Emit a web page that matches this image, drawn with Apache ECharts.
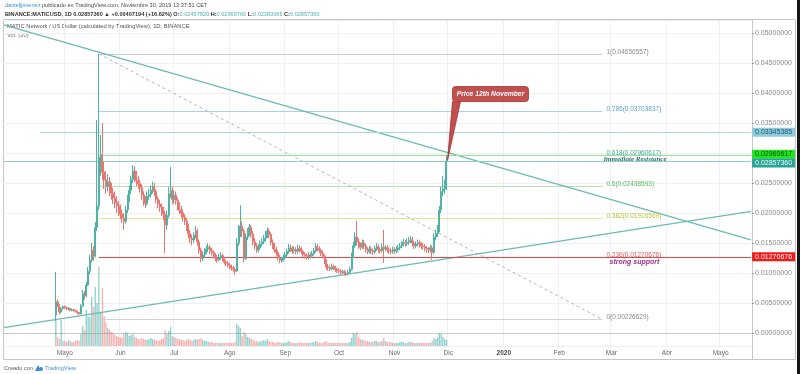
<!DOCTYPE html>
<html><head><meta charset="utf-8">
<script src="https://cdn.jsdelivr.net/npm/echarts@6/dist/echarts.min.js"></script>
<style>html,body{margin:0;padding:0;background:#fff}#c{width:800px;height:374px}</style>
</head><body><div id="c"></div>
<script>
// ---------- DATA ----------
const axisStart = '2019-03-28';      // first category of the time axis
const axisDays = 418;                // to 2020-05-18
const firstLabelDate = '2019-05-01';
const candleStart = '2019-04-26';    // first daily candle
const firstOpen = 0.0030;
const closes = [
 0.0052,0.0046,0.0035,0.0041,0.0044,
 0.0042,0.0040,0.0041,0.0038,0.0039,0.0037,0.0036,0.0034,0.0032,0.0045,0.0066,0.0062,0.0080,0.0103,0.0122,0.0138,0.0128,0.0176,0.0212,0.0293,0.0297,0.0268,0.0255,0.0244,0.0252,0.0238,0.0233,0.0225,0.0217,0.0212,0.0205,
 0.0198,0.0192,0.0186,0.0205,0.0224,0.0238,0.0256,0.0270,0.0262,0.0254,0.0249,0.0242,0.0230,0.0220,0.0216,0.0228,0.0231,0.0238,0.0244,0.0236,0.0223,0.0215,0.0210,0.0203,0.0198,0.0180,0.0196,0.0232,0.0238,0.0222,
 0.0230,0.0221,0.0212,0.0205,0.0200,0.0193,0.0187,0.0178,0.0166,0.0158,0.0155,0.0163,0.0170,0.0152,0.0138,0.0124,0.0130,0.0136,0.0140,0.0143,0.0137,0.0134,0.0128,0.0125,0.0122,0.0126,0.0129,0.0123,0.0118,0.0116,0.0113,
 0.0110,0.0108,0.0106,0.0103,0.0150,0.0165,0.0178,0.0170,0.0124,0.0160,0.0168,0.0176,0.0165,0.0152,0.0145,0.0138,0.0142,0.0148,0.0152,0.0158,0.0163,0.0170,0.0164,0.0151,0.0145,0.0139,0.0134,0.0126,0.0121,0.0122,0.0126,
 0.0130,0.0136,0.0142,0.0140,0.0137,0.0139,0.0136,0.0141,0.0140,0.0136,0.0131,0.0129,0.0127,0.0130,0.0128,0.0132,0.0137,0.0144,0.0141,0.0138,0.0133,0.0128,0.0120,0.0110,0.0109,0.0107,0.0111,0.0109,0.0106,0.0104,
 0.0103,0.0101,0.0102,0.0100,0.0099,0.0101,0.0106,0.0128,0.0145,0.0160,0.0152,0.0146,0.0143,0.0150,0.0145,0.0139,0.0136,0.0140,0.0137,0.0135,0.0141,0.0144,0.0139,0.0137,0.0143,0.0140,0.0142,0.0139,0.0137,0.0136,0.0139,
 0.0137,0.0139,0.0142,0.0145,0.0148,0.0151,0.0149,0.0151,0.0154,0.0156,0.0150,0.0145,0.0148,0.0151,0.0147,0.0145,0.0144,0.0141,0.0139,0.0138,0.0142,0.0134,0.0160,0.0166,0.0172,0.0205,0.0236,0.0240,0.02450166,0.0285736
];
const lastOpen = 0.0245792;
const highs = [
 0.0102,0.0056,0.0048,0.0043,0.0046,
 0.0046,0.0044,0.0043,0.0042,0.0041,0.0040,0.0039,0.0037,0.0035,0.0048,0.0072,0.0070,0.0085,0.0110,0.0130,0.0150,0.0145,0.0185,0.0355,0.04650557,0.0330,0.0350,0.0285,0.0270,0.0265,0.0260,0.0250,0.0242,0.0236,0.0228,0.0220,
 0.0214,0.0206,0.0200,0.0212,0.0230,0.0246,0.0262,0.0280,0.0278,0.0270,0.0262,0.0256,0.0248,0.0236,0.0228,0.0236,0.0240,0.0246,0.0252,0.0250,0.0240,0.0228,0.0222,0.0216,0.0210,0.0204,0.0204,0.0243,0.0277,0.0244,
 0.0238,0.0236,0.0226,0.0218,0.0212,0.0206,0.0198,0.0192,0.0182,0.0172,0.0164,0.0168,0.0178,0.0174,0.0156,0.0142,0.0136,0.0141,0.0146,0.0150,0.0147,0.0142,0.0138,0.0133,0.0130,0.0132,0.0135,0.0132,0.0127,0.0122,0.0120,
 0.0117,0.0114,0.0112,0.0110,0.0158,0.0180,0.0213,0.0186,0.0174,0.0166,0.0175,0.0182,0.0180,0.0170,0.0158,0.0150,0.0148,0.0154,0.0158,0.0164,0.0170,0.0176,0.0174,0.0168,0.0156,0.0150,0.0144,0.0138,0.0130,0.0127,0.0131,
 0.0135,0.0141,0.0148,0.0147,0.0144,0.0145,0.0143,0.0147,0.0146,0.0144,0.0139,0.0135,0.0133,0.0135,0.0134,0.0137,0.0142,0.0150,0.0148,0.0145,0.0141,0.0137,0.0131,0.0123,0.0115,0.0113,0.0116,0.0114,0.0112,0.0109,
 0.0108,0.0106,0.0106,0.0105,0.0103,0.0105,0.0110,0.0134,0.0152,0.0168,0.0187,0.0158,0.0151,0.0156,0.0155,0.0149,0.0143,0.0145,0.0144,0.0141,0.0146,0.0150,0.0148,0.0143,0.0149,0.0172,0.0147,0.0146,0.0143,0.0141,0.0144,
 0.0143,0.0144,0.0147,0.0150,0.0153,0.0157,0.0155,0.0157,0.0160,0.0162,0.0160,0.0154,0.0153,0.0156,0.0155,0.0151,0.0150,0.0148,0.0145,0.0143,0.0147,0.0146,0.0166,0.0172,0.0180,0.0212,0.0244,0.0262,0.0256,0.0296976
];
const lows = [
 0.0020,0.0043,0.0031,0.0033,0.0039,
 0.0040,0.0038,0.0038,0.0036,0.0036,0.0035,0.0034,0.0032,0.0030,0.0031,0.0044,0.0056,0.0060,0.0078,0.0098,0.0118,0.0120,0.0126,0.0170,0.0205,0.0262,0.0255,0.0240,0.0232,0.0236,0.0228,0.0222,0.0215,0.0208,0.0200,0.0195,
 0.0190,0.0184,0.0172,0.0182,0.0200,0.0218,0.0232,0.0250,0.0252,0.0245,0.0240,0.0234,0.0222,0.0212,0.0208,0.0212,0.0222,0.0226,0.0232,0.0228,0.0216,0.0208,0.0202,0.0195,0.0188,0.0133,0.0172,0.0192,0.0225,0.0214,
 0.0216,0.0214,0.0204,0.0198,0.0192,0.0186,0.0180,0.0170,0.0158,0.0150,0.0146,0.0150,0.0158,0.0146,0.0132,0.0118,0.0120,0.0126,0.0132,0.0135,0.0132,0.0129,0.0124,0.0120,0.0117,0.0119,0.0122,0.0119,0.0114,0.0111,0.0109,
 0.0106,0.0104,0.0102,0.0097,0.0102,0.0145,0.0160,0.0160,0.0118,0.0122,0.0155,0.0162,0.0158,0.0146,0.0139,0.0133,0.0134,0.0138,0.0144,0.0148,0.0153,0.0158,0.0158,0.0146,0.0140,0.0134,0.0129,0.0121,0.0116,0.0117,0.0119,
 0.0122,0.0127,0.0132,0.0135,0.0132,0.0133,0.0131,0.0132,0.0135,0.0131,0.0126,0.0124,0.0122,0.0123,0.0124,0.0125,0.0129,0.0134,0.0136,0.0133,0.0128,0.0124,0.0115,0.0105,0.0104,0.0103,0.0104,0.0105,0.0102,0.0100,
 0.0099,0.0097,0.0098,0.0096,0.0095,0.0096,0.0099,0.0104,0.0125,0.0142,0.0146,0.0140,0.0138,0.0140,0.0140,0.0134,0.0131,0.0132,0.0132,0.0130,0.0132,0.0137,0.0134,0.0132,0.0134,0.0117,0.0136,0.0134,0.0132,0.0131,0.0132,
 0.0132,0.0133,0.0135,0.0138,0.0141,0.0144,0.0144,0.0145,0.0147,0.0150,0.0145,0.0140,0.0141,0.0144,0.0142,0.0140,0.0139,0.0136,0.0134,0.0133,0.0134,0.0122,0.0132,0.0155,0.0160,0.0168,0.0200,0.0228,0.0232,0.0238307
];
// volume, relative units
const volumes = [
 260,90,70,260,50,
 50,40,60,50,40,40,50,60,50,120,200,160,360,300,290,490,390,590,430,790,330,580,300,230,180,160,140,130,110,100,90,
 90,80,120,140,130,100,110,120,90,80,70,70,80,70,60,60,70,80,70,60,60,50,60,70,80,160,120,150,190,100,
 90,80,70,70,60,60,50,60,70,60,50,60,70,60,70,80,60,50,50,40,40,40,30,30,30,30,30,30,30,30,30,
 30,30,30,40,220,200,180,100,140,120,90,80,70,60,50,50,40,50,50,60,50,70,50,40,40,30,30,40,40,30,30,
 30,40,50,40,30,30,30,30,40,30,30,30,30,30,30,40,40,50,40,30,30,30,40,50,30,30,30,30,30,30,
 30,30,30,30,30,30,40,80,130,120,140,90,70,60,60,50,50,40,40,40,50,50,40,40,50,80,50,40,40,40,30,
 30,30,30,40,40,40,30,30,40,40,40,30,30,30,30,30,30,30,30,30,30,50,80,70,90,130,120,90,70,60
];
const monthNames = ['Ene','Feb','Mar','Abr','Mayo','Jun','Jul','Ago','Sep','Oct','Nov','Dic'];
const fibRatios = ['0','0.236','0.382','0.5','0.618','0.786','1'];
const fibLevels = [0.00226629,0.01270676,0.01916569,0.02438593,0.02960617,0.03703837,0.04650557];
const fibStart = '2019-05-20', fibEnd = '2020-02-25';
const resistanceLevel = 0.03345385, resistanceFrom = '2019-04-17';
const immediateResistance = 0.02960617;
const lastPrice = 0.0285736;
const strongSupport = 0.01270676;
const upperTrend = [['2019-03-28', 0.05137], ['2020-05-18', 0.01553]];
const lowerTrend = [['2019-03-28', 0.00088], ['2020-05-18', 0.02028]];
const yMin = -0.00216667, yMax = 0.05216667;

// ---------- BUILD ----------
function dayStr(base, n) {
  return new Date(Date.parse(base + 'T00:00:00Z') + n * 86400000).toISOString().slice(0, 10);
}
const categories = [];
for (let i = 0; i < axisDays; i++) categories.push(dayStr(axisStart, i));
const lastCat = categories[categories.length - 1];
const firstCat = categories[0];
const isMonthTick = (i, v) => v.slice(8) === '01' && v >= firstLabelDate;

const UP = '#4fb3a3', DOWN = '#ec7470';
const candleData = [], volData = [];
for (let i = 0; i < closes.length; i++) {
  const d = dayStr(candleStart, i);
  const o = i === 0 ? firstOpen : (i === closes.length - 1 ? lastOpen : closes[i - 1]);
  const c = closes[i];
  candleData.push([d, o, c, lows[i], highs[i]]);
  volData.push({ value: [d, volumes[i]], itemStyle: { color: c >= o ? 'rgba(38,166,154,0.5)' : 'rgba(239,83,80,0.45)' } });
}
const lenOk = closes.length === highs.length && closes.length === lows.length && closes.length === volumes.length;

const FONT = 'Liberation Sans';
const fibLineColors = ['#d2d2d2', '#e88b8b', '#e3e79a', '#b6e2b0', '#a6dccc', '#a9d2ea', '#c3d2db'];
const fibTextColors = ['#8a8a8a', '#e06060', '#b8c43a', '#5cb85c', '#3eab98', '#5b9fd0', '#8a8a8a'];

function hLine(fromX, toX, v, color, width, label) {
  return [
    { coord: [fromX, v], lineStyle: { color: color, width: width, type: 'solid' }, label: label || { show: false } },
    { coord: [toX, v] }
  ];
}
function axisTag(v, bg, fg, dy) {
  return { show: true, position: 'end', distance: 1, formatter: v.toFixed(8), offset: [0, dy || 0],
    backgroundColor: bg, color: fg, fontSize: 7, lineHeight: 8, fontFamily: FONT, padding: [1, 3, 0, 3] };
}

const mlData = [];
for (let k = 0; k < fibLevels.length; k++) {
  mlData.push(hLine(fibStart, fibEnd, fibLevels[k], k === 1 ? 'rgba(0,0,0,0)' : fibLineColors[k], 1, {
    show: true, position: 'end', distance: 4, offset: [0, -2],
    formatter: fibRatios[k] + '(' + fibLevels[k].toFixed(8) + ')', color: fibTextColors[k], fontSize: 6.5, fontFamily: FONT }));
}
mlData.push([
  { coord: [fibStart, fibLevels[6]], lineStyle: { color: '#b5b5b5', width: 1, type: [3, 3] }, label: { show: false } },
  { coord: [fibEnd, fibLevels[0]] }
]);
mlData.push([{ coord: upperTrend[0], lineStyle: { color: '#6dbab3', width: 1.3, type: 'solid' }, label: { show: false } }, { coord: upperTrend[1] }]);
mlData.push([{ coord: lowerTrend[0], lineStyle: { color: '#6dbab3', width: 1.3, type: 'solid' }, label: { show: false } }, { coord: lowerTrend[1] }]);
mlData.push(hLine(resistanceFrom, lastCat, resistanceLevel, '#a6d7e2', 1, axisTag(resistanceLevel, '#8ecbdd', '#1f566a', 0)));
mlData.push(hLine(fibStart, lastCat, immediateResistance, '#93e393', 1, axisTag(immediateResistance, '#1ee51e', '#0d4a0d', -1)));
mlData.push(hLine(firstCat, lastCat, lastPrice, '#8fcfc6', 1, axisTag(lastPrice, '#2ba297', '#eafffb', 1.5)));
mlData.push(hLine(fibStart, lastCat, strongSupport, '#e04549', 1.2, axisTag(strongSupport, '#f01a1a', '#ffffff', 0)));

const option = {
  animation: false,
  backgroundColor: '#ffffff',
  grid: { left: 3, right: 48, top: 20, bottom: 28, show: false },
  xAxis: {
    type: 'category', data: categories, boundaryGap: true,
    axisLine: { show: true, lineStyle: { color: '#c9c9c9' } },
    axisTick: { show: false },
    axisLabel: {
      interval: isMonthTick, color: '#6a6a6a', fontSize: 6.5, fontFamily: FONT, margin: 4,
      formatter: (v) => { const m = +v.slice(5, 7) - 1; return m === 0 ? '{y|' + v.slice(0, 4) + '}' : monthNames[m]; },
      rich: { y: { fontWeight: 'bold', color: '#444', fontSize: 6.5, fontFamily: FONT } }
    },
    splitLine: { show: true, interval: isMonthTick, lineStyle: { color: '#edf1f5', width: 1 } }
  },
  yAxis: [{
    type: 'value', position: 'right', min: yMin, max: yMax, splitNumber: 10, scale: false,
    axisLine: { show: true, lineStyle: { color: '#c9c9c9' } },
    axisTick: { show: true, length: 2, lineStyle: { color: '#999' } },
    axisLabel: { color: '#8a8a8a', fontSize: 7, fontFamily: FONT, margin: 3, showMinLabel: false, showMaxLabel: false,
      formatter: (v) => v.toFixed(8) },
    splitLine: { show: true, lineStyle: { color: '#eef1f4', width: 1 } }
  }, {
    type: 'value', min: 0, max: 3260, show: false, splitLine: { show: false }
  }],
  series: [{
    type: 'bar', name: 'Vol', yAxisIndex: 1, data: volData, barWidth: '75%', silent: true, z: 1
  }, {
    type: 'candlestick', name: 'MATICUSD', yAxisIndex: 0, data: candleData,
    encode: { x: 0, y: [1, 2, 3, 4] }, barWidth: 1.5, z: 3,
    itemStyle: { color: UP, color0: DOWN, borderColor: UP, borderColor0: DOWN, borderWidth: 1 },
    markLine: { silent: true, symbol: ['none', 'none'], animation: false, z: 2, data: mlData },
    markPoint: {
      silent: true, symbol: 'circle', symbolSize: 0, animation: false,
      data: [
        { coord: [fibEnd, 0.0290], label: { show: true, position: 'right', distance: 1, formatter: 'Immediate Resistance',
          color: '#2b6f6b', fontSize: 7, fontStyle: 'italic', fontWeight: 'bold', fontFamily: 'Liberation Serif' } },
        { coord: ['2020-02-29', 0.01183], label: { show: true, position: 'right', distance: 0, formatter: 'strong support',
          color: '#a52c8e', fontSize: 7, fontStyle: 'italic', fontWeight: 'bold', fontFamily: FONT } }
      ]
    }
  }],
  graphic: []
};

const headerGraphics = [
  { type: 'rect', id: 'frame', silent: true, shape: { x: 3.5, y: 19.5, width: 792, height: 340 }, style: { fill: 'none', stroke: '#c6c6c6', lineWidth: 1 }, z: -1 },
  { type: 'line', id: 'sep', silent: true, shape: { x1: 752.5, y1: 20, x2: 752.5, y2: 359 }, style: { stroke: '#c6c6c6', lineWidth: 1 } },
  { type: 'rect', id: 'edge', silent: true, shape: { x: 797, y: 0, width: 3, height: 374 }, style: { fill: '#151515' } },
  { type: 'text', id: 'h1', left: 5, top: 2, silent: true, style: { text: '{u|danieljjimenez} publicado en TradingView.com, Noviembre 30, 2019 13:37:51 CET',
      fill: '#4a4a4a', fontSize: 5.6, fontFamily: FONT, rich: { u: { fill: '#3f8fd2', fontSize: 5.6, fontFamily: FONT } } } },
  { type: 'text', id: 'h2', left: 5, top: 11, silent: true, style: {
      text: '{b|BINANCE:MATICUSD, 1D} 0.02857360 \u25B2 +0.00407194 (+16.62%) O:{t|0.02457920} H:{t|0.02969760} L:{t|0.02383065} C:{t|0.02857360}',
      fill: '#333', fontSize: 5.6, fontWeight: 'bold', fontFamily: FONT,
      rich: { b: { fill: '#333', fontWeight: 'bold', fontSize: 5.6, fontFamily: FONT }, t: { fill: '#4fb3a6', fontSize: 5.6, fontFamily: FONT } } } },
  { type: 'text', id: 'h3', left: 7, top: 23, silent: true, style: { text: 'MATIC Network / US Dollar (calculated by TradingView), 1D, BINANCE', fill: '#555', fontSize: 5.8, fontFamily: FONT } },
  { type: 'text', id: 'h4', left: 7, top: 32, silent: true, style: { text: 'Vol. (20)', fill: '#777', fontSize: 5.8, fontFamily: FONT } },
  { type: 'text', id: 'f1', left: 4, top: 365, silent: true, style: { text: 'Creado con', fill: '#555', fontSize: 5.6, fontFamily: FONT } },
  { type: 'polygon', id: 'f2', silent: true, shape: { points: [[35, 371], [38, 365], [41, 371]] }, style: { fill: '#3f8fd2' } },
  { type: 'circle', id: 'f3', silent: true, shape: { cx: 41, cy: 369, r: 2 }, style: { fill: '#3f8fd2' } },
  { type: 'text', id: 'f4', left: 45, top: 365, silent: true, style: { text: 'TradingView', fill: '#3f8fd2', fontSize: 5.6, fontFamily: FONT } }
];
if (!lenOk) headerGraphics.push({ type: 'text', id: 'warn', left: 300, top: 100, style: { text: 'LENGTH MISMATCH ' + closes.length + '/' + highs.length + '/' + lows.length + '/' + volumes.length, fill: 'red', fontSize: 14 } });
option.graphic = headerGraphics;

const chart = echarts.init(document.getElementById('c'), null, { renderer: 'canvas' });
chart.setOption(option);

const lastIdx = closes.length - 1;
const tip = chart.convertToPixel({ xAxisIndex: 0, yAxisIndex: 0 }, [dayStr(candleStart, lastIdx), closes[lastIdx]]);
if (tip) {
  const tx = tip[0], ty = tip[1];
  const callout = [
    { type: 'polygon', id: 'c1', silent: true, z: 50, shape: { points: [[tx + 6, ty - 60], [tx + 14, ty - 60], [tx + 1, ty - 1]] },
      style: { fill: '#c1504f', stroke: '#9b3434', lineWidth: 0.8 } },
    { type: 'rect', id: 'c2', silent: true, z: 51, shape: { x: tx + 6, y: ty - 75, width: 76, height: 15, r: 3 },
      style: { fill: '#c1504f', stroke: '#9b3434', lineWidth: 0.8 } },
    { type: 'polygon', id: 'c3', silent: true, z: 52, shape: { points: [[tx + 7, ty - 61], [tx + 13, ty - 61], [tx + 7, ty - 58]] },
      style: { fill: '#c1504f' } },
    { type: 'text', id: 'c4', silent: true, z: 53, x: tx + 44, y: ty - 67.5,
      style: { text: 'Price 12th November', fill: '#fff', fontSize: 6.8, fontStyle: 'italic', fontWeight: 'bold', fontFamily: FONT, align: 'center', verticalAlign: 'middle' } }
  ];
  chart.setOption({ graphic: headerGraphics.concat(callout) });
}
</script></body></html>
